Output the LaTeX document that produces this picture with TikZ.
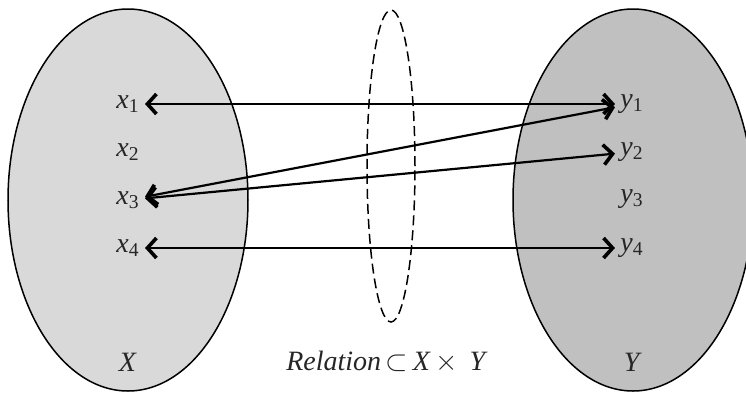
\documentclass[tikz,border=0pt]{standalone}
\usepackage{fontspec}
\setmainfont{Liberation Serif}[ItalicFont=Liberation Serif Italic]
\usetikzlibrary{arrows.meta}
\definecolor{setleft}{RGB}{217,217,217}
\definecolor{setright}{RGB}{192,192,192}
\newcommand{\elem}[2]{\textit{#1}\textsubscript{#2}}

\begin{document}
\begin{tikzpicture}[x=0.5pt,y=-0.5pt,
    lbl/.style={font=\fontsize{14}{16}\selectfont, text=black!85, inner sep=2.5pt},
    pair/.style={{Straight Barb[length=4.5pt,width=10pt,line width=1.8pt]}-{Straight Barb[length=4.5pt,width=10pt,line width=1.8pt]}, line width=1.1pt}]
    \useasboundingbox (0,0) rectangle (746,392);

    % the two sets
    \draw[line width=0.75pt, fill=setleft] (128,200) ellipse [x radius=60pt, y radius=95.5pt];
    \draw[line width=0.75pt, fill=setright] (633,200) ellipse [x radius=60pt, y radius=95.5pt];

    % elements
    \node[lbl] (x1) at (128,104) {\elem{x}{1}};
    \node[lbl] (x2) at (128,152) {\elem{x}{2}};
    \node[lbl] (x3) at (128,200) {\elem{x}{3}};
    \node[lbl] (x4) at (128,248) {\elem{x}{4}};
    \node[lbl] (y1) at (632,104) {\elem{y}{1}};
    \node[lbl] (y2) at (632,152) {\elem{y}{2}};
    \node[lbl] (y3) at (632,199) {\elem{y}{3}};
    \node[lbl] (y4) at (632,248) {\elem{y}{4}};

    \node[lbl] (setX) at (128,362) {\textit{X}};
    \node[lbl] (setY) at (633,362) {\textit{Y}};
    \node[lbl] (rel) at (387,362) {\textit{Relation}\,$\subset$\,\textit{X}\,$\times$\, \textit{Y}};

    % the relation
    \draw[line width=0.75pt, dashed, dash pattern=on 5pt off 2.5pt] (391,166) ellipse [x radius=12pt, y radius=78pt];

    \draw[pair] (x1) -- (y1);
    \draw[pair] (x3) -- (y1);
    \draw[pair] (x3) -- (y2);
    \draw[pair] (x4) -- (y4);
\end{tikzpicture}
\end{document}
